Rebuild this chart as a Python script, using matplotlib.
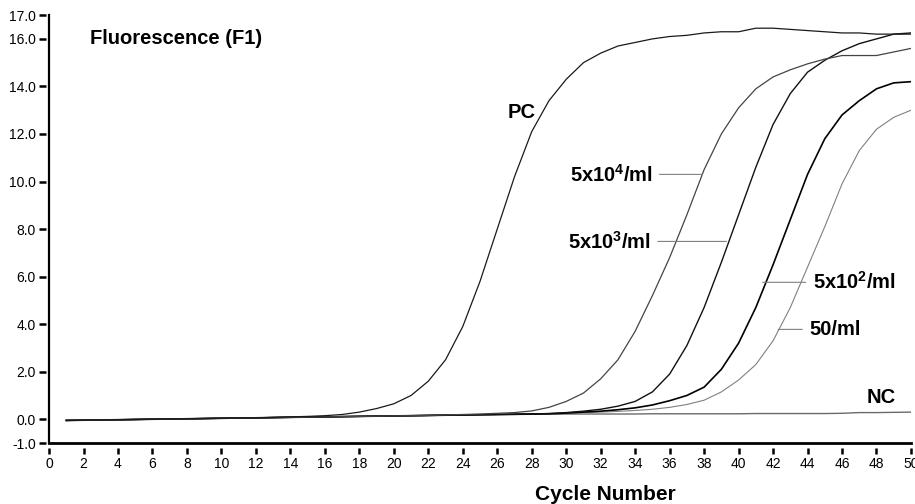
# -*- coding: utf-8 -*-
# real-time PCR amplification curves, fluorescence vs cycle number

import numpy as np
import matplotlib
matplotlib.use('Agg')
import matplotlib.pyplot as plt
from matplotlib.path import Path

plt.rcParams['font.family'] = ['Liberation Sans', 'DejaVu Sans']
plt.rcParams['mathtext.fontset'] = 'custom'
plt.rcParams['mathtext.rm'] = 'Liberation Sans:bold'
plt.rcParams['mathtext.it'] = 'Liberation Sans:bold'
plt.rcParams['mathtext.bf'] = 'Liberation Sans:bold'

# data
cycles = list(range(1, 51))

pc = [-0.05, -0.04, -0.03, -0.02, -0.01, 0.00, 0.01, 0.02, 0.03, 0.04,
      0.05, 0.06, 0.08, 0.10, 0.12, 0.15, 0.20, 0.30, 0.45, 0.65,
      1.00, 1.60, 2.50, 3.90, 5.80, 8.00, 10.20, 12.10, 13.40, 14.30,
      15.00, 15.40, 15.70, 15.85, 16.00, 16.10, 16.15, 16.25, 16.30, 16.30,
      16.45, 16.45, 16.40, 16.35, 16.30, 16.25, 16.25, 16.20, 16.20, 16.20]

c5e4 = [-0.05, -0.04, -0.03, -0.02, -0.01, 0.00, 0.01, 0.02, 0.03, 0.04,
        0.05, 0.06, 0.07, 0.08, 0.09, 0.10, 0.11, 0.12, 0.13, 0.14,
        0.15, 0.16, 0.18, 0.20, 0.22, 0.25, 0.28, 0.35, 0.50, 0.75,
        1.10, 1.70, 2.50, 3.70, 5.20, 6.80, 8.60, 10.50, 12.00, 13.10,
        13.90, 14.40, 14.70, 14.95, 15.15, 15.30, 15.30, 15.30, 15.45, 15.60]

c5e3 = [-0.05, -0.04, -0.03, -0.02, -0.01, 0.00, 0.01, 0.02, 0.03, 0.04,
        0.05, 0.06, 0.07, 0.08, 0.09, 0.10, 0.11, 0.12, 0.13, 0.14,
        0.15, 0.16, 0.17, 0.18, 0.19, 0.20, 0.21, 0.22, 0.24, 0.28,
        0.34, 0.42, 0.55, 0.75, 1.15, 1.90, 3.10, 4.70, 6.60, 8.60,
        10.60, 12.40, 13.70, 14.60, 15.10, 15.50, 15.80, 16.00, 16.20, 16.25]

c5e2 = [-0.05, -0.04, -0.03, -0.02, -0.01, 0.00, 0.01, 0.02, 0.03, 0.04,
        0.05, 0.06, 0.07, 0.08, 0.09, 0.10, 0.11, 0.12, 0.13, 0.14,
        0.15, 0.16, 0.17, 0.18, 0.19, 0.20, 0.21, 0.22, 0.23, 0.26,
        0.30, 0.34, 0.40, 0.48, 0.60, 0.78, 1.00, 1.35, 2.10, 3.20,
        4.70, 6.50, 8.40, 10.30, 11.80, 12.80, 13.40, 13.90, 14.15, 14.20]

c50 = [-0.05, -0.04, -0.03, -0.02, -0.01, 0.00, 0.01, 0.02, 0.03, 0.04,
       0.05, 0.06, 0.07, 0.08, 0.09, 0.10, 0.11, 0.12, 0.13, 0.14,
       0.15, 0.16, 0.17, 0.18, 0.19, 0.20, 0.21, 0.22, 0.23, 0.25,
       0.28, 0.30, 0.33, 0.37, 0.42, 0.50, 0.62, 0.80, 1.15, 1.65,
       2.30, 3.30, 4.70, 6.40, 8.10, 9.90, 11.30, 12.20, 12.70, 13.00]

nc = [-0.05, -0.04, -0.03, -0.02, -0.01, 0.00, 0.01, 0.02, 0.03, 0.04,
      0.05, 0.06, 0.07, 0.08, 0.09, 0.10, 0.11, 0.12, 0.13, 0.14,
      0.15, 0.16, 0.17, 0.18, 0.19, 0.20, 0.20, 0.21, 0.21, 0.22,
      0.22, 0.22, 0.22, 0.22, 0.23, 0.23, 0.23, 0.23, 0.23, 0.23,
      0.24, 0.24, 0.24, 0.24, 0.24, 0.25, 0.28, 0.28, 0.29, 0.30]

xticks = list(range(0, 51, 2))
yticks = [-1.0, 0.0, 2.0, 4.0, 6.0, 8.0, 10.0, 12.0, 14.0, 16.0, 17.0]


fig = plt.figure(figsize=(9.15, 5.04), dpi=100)
ax = fig.add_axes([0.0536, 0.121, 0.942, 0.849])

ax.plot(cycles, nc, color='#6a6a6a', lw=1.0)
ax.plot(cycles, c50, color='#808080', lw=0.8)
ax.plot(cycles, c5e2, color='#000000', lw=1.2)
ax.plot(cycles, c5e3, color='#111111', lw=1.0)
ax.plot(cycles, c5e4, color='#444444', lw=0.9)
ax.plot(cycles, pc, color='#1a1a1a', lw=0.9)

ax.set_xlim(0, 50)
ax.set_ylim(-1, 17)
ax.set_xticks(xticks)
ax.set_yticks(yticks)
ax.set_yticklabels(['%.1f' % v for v in yticks])

for s in ['top', 'right']:
    ax.spines[s].set_visible(False)
ax.spines['left'].set_linewidth(1.6)
ax.spines['bottom'].set_linewidth(2.0)

ax.tick_params(axis='x', length=8, width=1.8, pad=2, labelsize=10)
ax.tick_params(axis='y', length=7, width=1.8, pad=2.4, labelsize=10)

# ticks sit a little away from the axis line, like in the original
xmark = Path([(0, -0.45), (0, -1.0)])
ymark = Path([(-0.3, 0), (-1.0, 0)])
for t in ax.xaxis.get_major_ticks():
    t.tick1line.set_marker(xmark)
    t.tick1line.set_markersize(16)
for t in ax.yaxis.get_major_ticks():
    t.tick1line.set_marker(ymark)
    t.tick1line.set_markersize(14)

lab = dict(fontsize=14.5, fontweight='bold', va='center')
ax.text(2.4, 16.0, 'Fluorescence (F1)', **lab)
ax.text(26.6, 12.9, 'PC', ha='left', **lab)
ax.text(47.4, 0.92, 'NC', ha='left', **lab)

lead = dict(arrowstyle='-', color='#808080', lw=0.8, shrinkA=3, shrinkB=0)
ax.annotate('5x10$^{4}$/ml', xy=(37.9, 10.3), xytext=(30.2, 10.3), ha='left',
            arrowprops=dict(lead, relpos=(1, 0.5)), **lab)
ax.annotate('5x10$^{3}$/ml', xy=(39.3, 7.48), xytext=(30.1, 7.48), ha='left',
            arrowprops=dict(lead, relpos=(1, 0.5)), **lab)
ax.annotate('5x10$^{2}$/ml', xy=(41.4, 5.76), xytext=(44.3, 5.76), ha='left',
            arrowprops=dict(lead, relpos=(0, 0.5)), **lab)
ax.annotate('50/ml', xy=(42.3, 3.78), xytext=(44.1, 3.78), ha='left',
            arrowprops=dict(lead, relpos=(0, 0.5)), **lab)

fig.text(0.662, 0.018, 'Cycle Number', fontsize=15, fontweight='bold',
         ha='center', va='center')

fig.savefig('out.png', dpi=100)
